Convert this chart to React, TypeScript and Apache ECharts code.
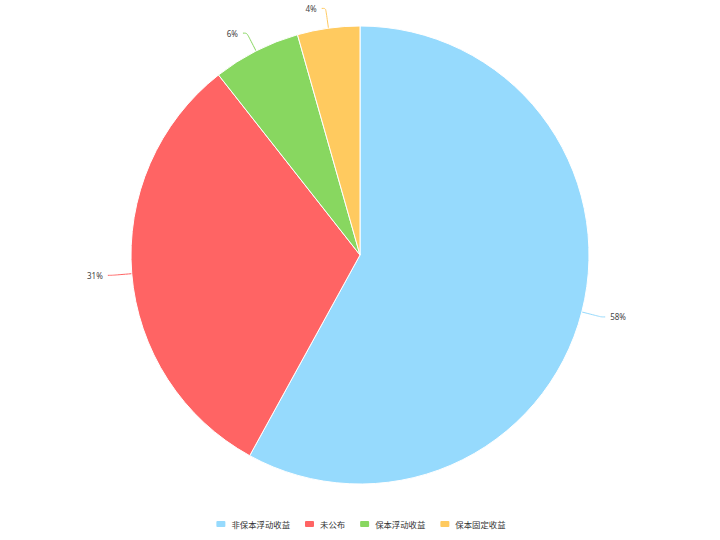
import React, { useEffect, useRef } from "react";
import * as echarts from "echarts";

const categories = ["非保本浮动收益", "未公布", "保本浮动收益", "保本固定收益"];
const values = [58.0, 31.4, 6.2, 4.4];
const colors = ["#96DAFD", "#FF6464", "#88D760", "#FFCA5F"];

export default function App() {
  const ref = useRef<HTMLDivElement>(null);
  useEffect(() => {
    document.body.style.margin = "0";
    const chart = echarts.init(ref.current!, null, { renderer: "svg" });
    chart.setOption({
      animation: false,
      color: colors,
      legend: {
        top: 514,
        left: "center",
        itemWidth: 11,
        itemHeight: 8,
        itemGap: 13,
        textStyle: { fontSize: 8.4, color: "#333", fontFamily: "Noto Sans CJK SC" },
        data: categories,
      },
      series: [
        {
          type: "pie",
          center: [360, 255],
          radius: 229,
          startAngle: 90,
          clockwise: true,
          itemStyle: { borderColor: "#fff", borderWidth: 1 },
          label: {
            formatter: (p: any) => Math.round(p.percent) + "%",
            fontSize: 8,
            color: "#444",
            fontFamily: "Noto Sans",
          },
          labelLine: { length: 20, length2: 4, smooth: true },
          data: categories.map((c, i) => ({ name: c, value: values[i] })),
        },
      ],
    });
    return () => chart.dispose();
  }, []);
  return <div ref={ref} style={{ width: 720, height: 540 }} />;
}
